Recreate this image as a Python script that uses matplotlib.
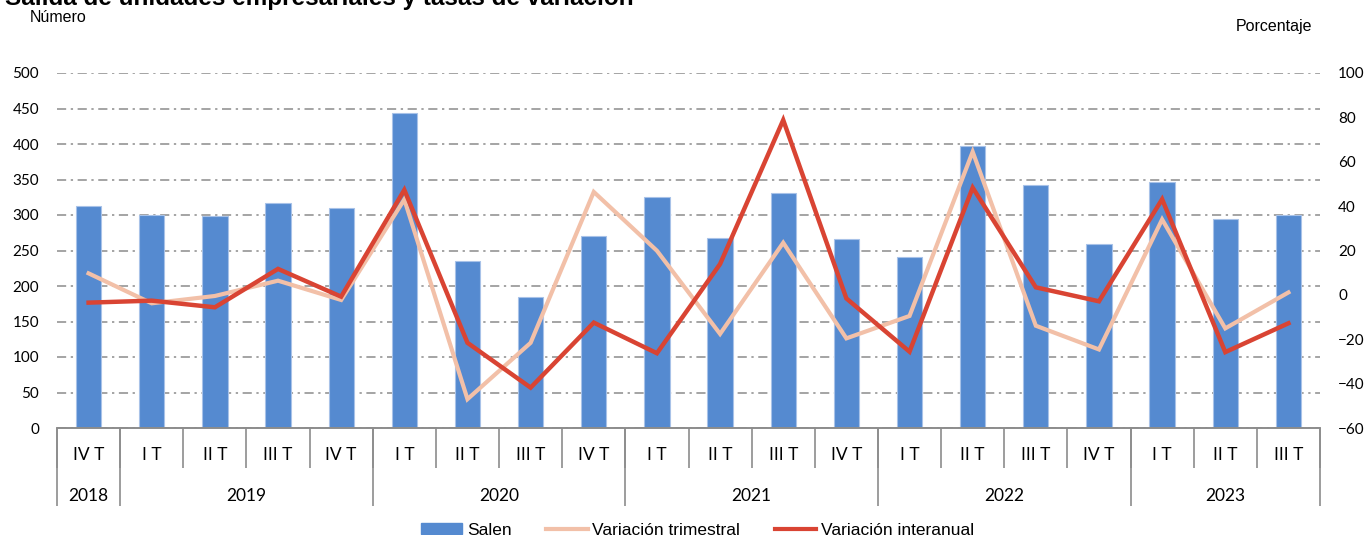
import numpy as np
import matplotlib
matplotlib.use("Agg")
import matplotlib.pyplot as plt
from matplotlib.patches import Patch
from matplotlib.lines import Line2D

# datos
trimestres = ["IV T", "I T", "II T", "III T", "IV T",
              "I T", "II T", "III T", "IV T",
              "I T", "II T", "III T", "IV T",
              "I T", "II T", "III T", "IV T",
              "I T", "II T", "III T"]
anios = ["2018", "2019", "2020", "2021", "2022", "2023"]
trim_por_anio = [1, 4, 4, 4, 4, 3]

salen = [312, 300, 299, 317, 310, 443, 235, 185, 271, 325,
         267, 331, 266, 241, 397, 342, 259, 346, 295, 300]
var_trim = [9.7, -3.8, -0.5, 6.4, -2.3, 43.0, -47.0, -21.6, 46.4, 19.9,
            -17.6, 23.5, -19.6, -9.5, 64.5, -13.9, -24.6, 34.0, -15.1, 1.1]
var_inter = [-3.5, -2.6, -5.6, 11.7, -0.8, 47.3, -21.6, -41.8, -12.5, -26.3,
             13.9, 78.8, -1.6, -25.6, 48.3, 3.4, -2.9, 43.1, -25.8, -12.8]

c_bar = "#558ad0"
c_trim = "#f2c0a8"
c_inter = "#d94433"
c_gris = "#8c8c8c"

fig = plt.figure(figsize=(13.7, 5.35), dpi=100)
ax = fig.add_axes([57/1370, 1-428/535, (1320-57)/1370, (428-73)/535])
ax2 = ax.twinx()

x = np.arange(len(salen))
ax.bar(x, salen, width=0.4, color=c_bar, edgecolor="#a8c2e8", linewidth=0.8, zorder=2)
ax.set_xlim(-0.5, len(salen)-0.5)
ax.set_ylim(0, 500)
ax.set_yticks(np.arange(0, 501, 50))
ax.set_axisbelow(True)
ax.yaxis.grid(True, color=c_gris, linestyle=(0, (6, 3, 1.5, 3)), linewidth=1.1)

ax2.plot(x, var_trim, color=c_trim, linewidth=3.0, solid_joinstyle="miter")
ax2.plot(x, var_inter, color=c_inter, linewidth=3.2, solid_joinstyle="miter")
ax2.set_ylim(-60, 100)
ax2.set_yticks(np.arange(-60, 101, 20))

for a in (ax, ax2):
    for s in ("top", "left", "right"):
        a.spines[s].set_visible(False)
    a.spines["bottom"].set_color(c_gris)
    a.spines["bottom"].set_linewidth(1.2)
    a.tick_params(axis="y", length=0, labelsize=11, labelfontfamily="Lato", colors="black")
ax.tick_params(axis="y", pad=13)
ax2.tick_params(axis="y", pad=13)

# eje de categorias: trimestres
ax.set_xticks(x, trimestres)
ax.set_xticks(np.arange(-0.5, len(salen), 1), minor=True)
ax.tick_params(axis="x", which="major", length=0, pad=14, labelsize=12.5,
               labelfontfamily="Lato")
ax.tick_params(axis="x", which="minor", length=29, width=1.2, color=c_gris)

# eje de categorias: años
limites = np.concatenate([[0], np.cumsum(trim_por_anio)]) - 0.5
centros = (limites[:-1] + limites[1:]) / 2
sec = ax.secondary_xaxis("bottom")
sec.spines["bottom"].set_visible(False)
sec.set_xticks(limites, [""] * len(limites))
sec.set_xticks(centros, anios, minor=True)
sec.tick_params(axis="x", which="major", length=56, width=1.2, color=c_gris)
sec.tick_params(axis="x", which="minor", length=0, pad=43, labelsize=12.5,
                labelfontfamily="Lato")

# textos
fig.text(5/1370, 1-5/535, "Salida de unidades empresariales y tasas de variación",
         fontsize=17.5, fontweight="bold", family="Liberation Sans", va="baseline")
fig.text(30/1370, 1-18/535, "Número", fontsize=11.5, family="Liberation Sans", va="center")
fig.text(1312/1370, 1-27/535, "Porcentaje", fontsize=11.5, family="Liberation Sans",
         va="center", ha="right")

handles = [Patch(color=c_bar), Line2D([], [], color=c_trim, lw=3),
           Line2D([], [], color=c_inter, lw=3)]
fig.legend(handles, ["Salen", "Variación trimestral", "Variación interanual"],
           loc="center", bbox_to_anchor=(0.509, 0.009), ncol=3, frameon=False,
           prop={"family": "Liberation Sans", "size": 12.5}, handlelength=2.4,
           handleheight=0.6, handletextpad=0.25, columnspacing=2.0)

fig.savefig("out.png", dpi=100)
